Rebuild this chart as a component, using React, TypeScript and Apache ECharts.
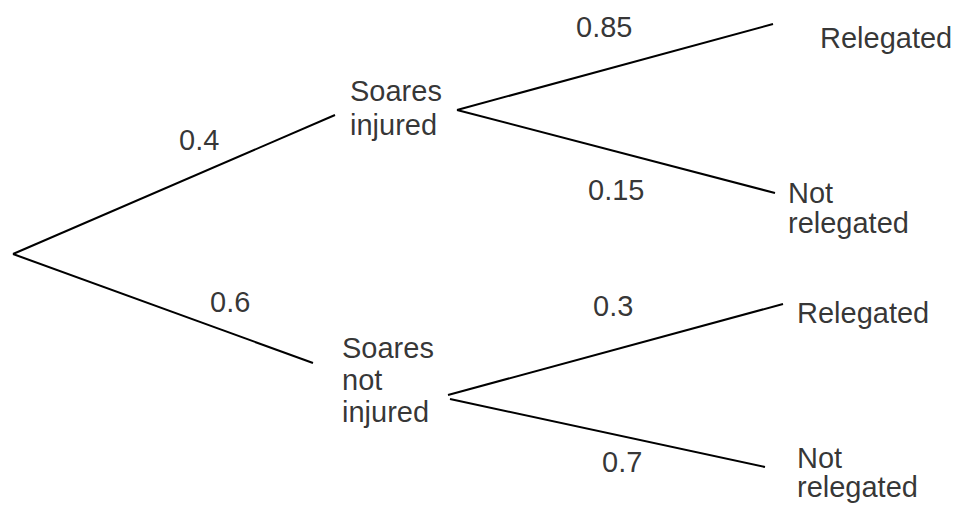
import React, { useEffect, useRef } from "react";
import * as echarts from "echarts";

// Branch probabilities, in drawing order
const probabilities = ["0.4", "0.6", "0.85", "0.15", "0.3", "0.7"];
// Outcome labels at the end of each stage
const stageOneLabels = ["Soares\ninjured", "Soares\nnot\ninjured"];
const stageTwoLabels = ["Relegated", "Not\nrelegated", "Relegated", "Not\nrelegated"];

// Branch segments in diagram units: [x1, y1, x2, y2]
const branches: number[][] = [
  [13, 254, 335, 115],
  [13, 254, 313, 363],
  [457, 110, 773, 24],
  [457, 110, 775, 193],
  [448, 395, 783, 304],
  [450, 399, 765, 467],
];
// Probability label anchors (left, baseline)
const probAnchors: number[][] = [
  [179, 150],
  [210, 312],
  [576, 37],
  [588, 200],
  [593, 316],
  [602, 472],
];
// Stage label anchors (left, first baseline) and line spacing
const stageOneAnchors: number[][] = [
  [350, 101],
  [342, 358],
];
const stageOneSpacing = [34, 32];
const stageTwoAnchors: number[][] = [
  [820, 48],
  [788, 203],
  [797, 323],
  [797, 468],
];
const stageTwoSpacing = [30, 30, 30, 29];

const FONT = "'Liberation Sans', Arial, Helvetica, sans-serif";
const FS = 29;

export default function App() {
  const ref = useRef<HTMLDivElement>(null);
  useEffect(() => {
    document.body.style.margin = "0";
    const chart = echarts.init(ref.current!, null, { renderer: "svg" });

    const textSeries = (name: string, anchors: number[][], texts: string[], spacing: number[]) =>
      anchors.map((a, i) => ({
        name: name + i,
        type: "scatter",
        symbolSize: 0,
        silent: true,
        data: [[a[0], a[1], texts[i]]],
        label: {
          show: true,
          position: [0, 0],
          align: "left",
          verticalAlign: "top",
          offset: [0, -(spacing[i] / 2 + FS * 0.3465)],
          formatter: (p: any) => p.data[2],
          fontFamily: FONT,
          fontSize: FS,
          lineHeight: spacing[i],
          color: "#000",
        },
      }));

    const option: any = {
      animation: false,
      backgroundColor: "#fff",
      grid: { left: 0, right: 0, top: 0, bottom: 0 },
      xAxis: { type: "value", min: 0, max: 957, show: false },
      yAxis: { type: "value", min: 0, max: 506, inverse: true, show: false },
      series: [
        ...branches.map((b, i) => ({
          name: "branch" + i,
          type: "line",
          symbol: "none",
          silent: true,
          data: [
            [b[0], b[1]],
            [b[2], b[3]],
          ],
          lineStyle: { color: "#000", width: 2 },
        })),
        ...textSeries("p", probAnchors, probabilities, probAnchors.map(() => 32)),
        ...textSeries("s1", stageOneAnchors, stageOneLabels, stageOneSpacing),
        ...textSeries("s2", stageTwoAnchors, stageTwoLabels, stageTwoSpacing),
      ],
    };
    chart.setOption(option);
    return () => chart.dispose();
  }, []);
  return <div ref={ref} style={{ width: 957, height: 506 }} />;
}
